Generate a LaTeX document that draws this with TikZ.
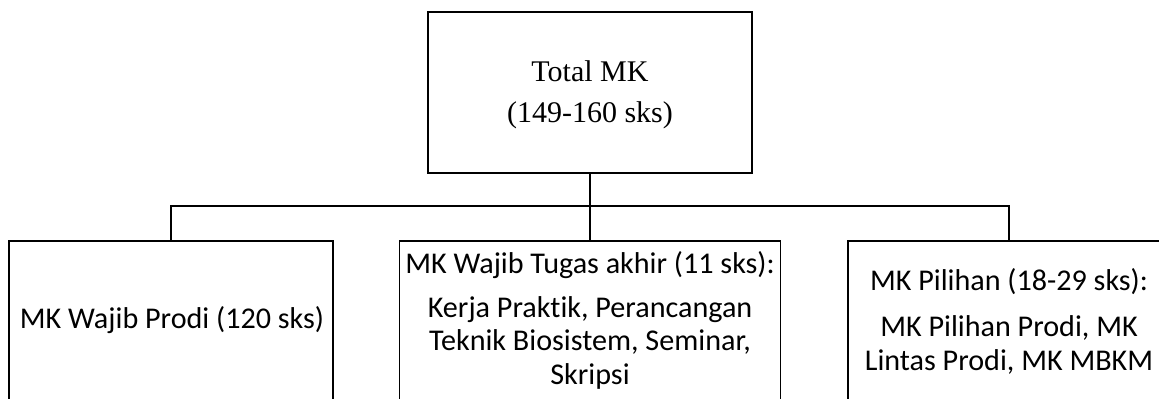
\documentclass[tikz,border=0pt]{standalone}
\usepackage{fontspec}
\setmainfont{Liberation Serif}
\newfontfamily\calfont[Ligatures={NoCommon}]{Carlito}
\begin{document}
\begin{tikzpicture}[x=0.75pt,y=-0.75pt,
  box/.style={draw=black,line width=1.2pt,minimum width=#1,inner sep=0pt,minimum height=189*0.75pt},
  conn/.style={draw=black,line width=1.2pt},
  ser/.style={anchor=base,inner sep=0pt,font=\fontsize{22.5}{27}\selectfont},
  cal/.style={anchor=base,inner sep=0pt,font=\calfont\fontsize{22.6}{27}\selectfont}]
\useasboundingbox (0,0) rectangle (1159,399);
\clip (0,0) rectangle (1159,399);
\node[draw=black,line width=1.2pt,minimum width=324*0.75pt,minimum height=161*0.75pt,inner sep=0pt] (top) at (590,92.5) {};
\node[box=324*0.75pt] (left) at (171,335.5) {};
\node[box=381*0.75pt] (mid) at (590,335.5) {};
\node[box=322*0.75pt] (right) at (1009,335.5) {};
\coordinate (bar) at (590,206);
\draw[conn] (top.south) -- (mid.north);
\draw[conn] (left.north) -- (left.north |- bar) -- (right.north |- bar) -- (right.north);
\node[ser] (t1) at (590,82) {Total MK};
\node[ser] (t2) at (590,123) {(149-160 sks)};
\node[cal] (l1) at (172,328) {MK Wajib Prodi (120 sks)};
\node[cal] (m1) at (590,273) {MK Wajib Tugas akhir (11 sks):};
\node[cal] (m2) at (590,317) {Kerja Praktik, Perancangan};
\node[cal] (m3) at (590,350) {Teknik Biosistem, Seminar,};
\node[cal] (m4) at (590,384) {Skripsi};
\node[cal] (r1) at (1009,290) {MK Pilihan (18-29 sks):};
\node[cal] (r2) at (1009,336) {MK Pilihan Prodi, MK};
\node[cal] (r3) at (1009,370) {Lintas Prodi, MK MBKM};
\end{tikzpicture}
\end{document}
